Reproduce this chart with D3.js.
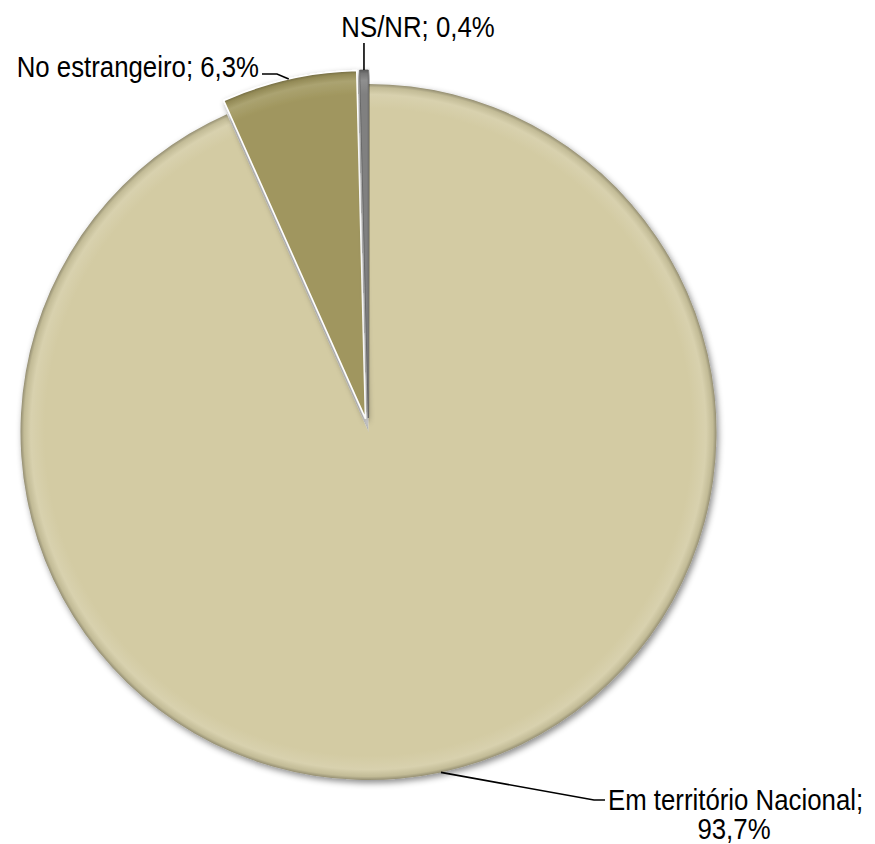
<!DOCTYPE html>
<html>
<head>
<meta charset="utf-8">
<script src="https://cdn.jsdelivr.net/npm/d3@7"></script>
<style>
  html, body { margin: 0; padding: 0; background: #ffffff; }
  svg { display: block; }
  text { font-family: "Liberation Sans", Arial, sans-serif; font-size: 30px; fill: #000; }
</style>
</head>
<body>
<div id="chart"></div>
<script>
// ---- data ----
const categories = ["Em território Nacional", "No estrangeiro", "NS/NR"];
const values = [93.7, 6.3, 0.4];
const valueLabels = ["93,7%", "6,3%", "0,4%"];

// ---- styling / layout ----
const colors = ["#D3CBA3", "#A0965E", "#808080"];
const strokes = ["none", "#ffffff", "#5c5c5c"];
const explode = [0, 14, 14];
const W = 875, H = 844;
const cx = 368.5, cy = 432, R = 348;
const narrow = 0.86; // horizontal condensing to mimic a narrow face

const svg = d3.select("#chart").append("svg").attr("width", W).attr("height", H);
const defs = svg.append("defs");

const f = defs.append("filter").attr("id", "shadow")
  .attr("x", "-10%").attr("y", "-10%").attr("width", "120%").attr("height", "120%");
f.append("feDropShadow").attr("dx", 2).attr("dy", 3).attr("stdDeviation", 3)
  .attr("flood-color", "#000").attr("flood-opacity", 0.45);

function mix(c, t, k) { return d3.interpolateRgb(c, t)(k); }

colors.forEach((c, i) => {
  const g = defs.append("radialGradient").attr("id", "grad" + i)
    .attr("gradientUnits", "userSpaceOnUse").attr("cx", 0).attr("cy", 0).attr("r", R);
  g.append("stop").attr("offset", 0).attr("stop-color", c);
  g.append("stop").attr("offset", 0.93).attr("stop-color", c);
  g.append("stop").attr("offset", 0.97).attr("stop-color", mix(c, "#ffffff", 0.12));
  g.append("stop").attr("offset", 0.99).attr("stop-color", mix(c, "#000000", 0.08));
  g.append("stop").attr("offset", 1).attr("stop-color", mix(c, "#000000", 0.3));
});

const pie = d3.pie().sort(null).value(d => d)(values);
const arc = d3.arc().innerRadius(0).outerRadius(R);

const root = svg.append("g").attr("transform", `translate(${cx},${cy})`);

function offset(d, i) {
  const m = (d.startAngle + d.endAngle) / 2;
  return [Math.sin(m) * explode[i], -Math.cos(m) * explode[i]];
}

const slices = root.selectAll("g.slice").data(pie).enter().append("g")
  .attr("class", "slice")
  .attr("transform", (d, i) => { const o = offset(d, i); return `translate(${o[0]},${o[1]})`; })
  .attr("filter", "url(#shadow)");

slices.append("path")
  .attr("d", arc)
  .attr("fill", (d, i) => `url(#grad${i})`)
  .attr("stroke", (d, i) => strokes[i])
  .attr("stroke-width", (d, i) => i === 2 ? 0.8 : 1.5)
  .attr("stroke-linejoin", "round");

// ---- labels with leader lines ----
function rimPoint(d, i) {
  const m = (d.startAngle + d.endAngle) / 2;
  const o = offset(d, i);
  return [cx + o[0] + Math.sin(m) * R, cy + o[1] - Math.cos(m) * R];
}

const labelLayout = [
  { pts: [[594, 800], [605, 800]], lines: [categories[0] + ";", valueLabels[0]], x: [608, 734], y: [810, 839], anchor: ["start", "middle"] },
  { pts: [[277, 74], [262, 74]], lines: [categories[1] + "; " + valueLabels[1]], x: [259], y: [77], anchor: ["end"] },
  { pts: [null], lines: [categories[2] + "; " + valueLabels[2]], x: [418], y: [37], anchor: ["middle"] }
];

const line = d3.line();
pie.forEach((d, i) => {
  const L = labelLayout[i];
  const p0 = rimPoint(d, i);
  let pts;
  if (i === 2) pts = [p0, [p0[0], 43]];
  else pts = [p0].concat(L.pts);
  svg.append("path").attr("d", line(pts))
    .attr("fill", "none").attr("stroke", "#000").attr("stroke-width", 1.6);
  L.lines.forEach((t, k) => {
    svg.append("text")
      .attr("transform", `translate(${L.x[k]},${L.y[k]}) scale(${narrow},1)`)
      .attr("text-anchor", L.anchor[k]).text(t);
  });
});
</script>
</body>
</html>
